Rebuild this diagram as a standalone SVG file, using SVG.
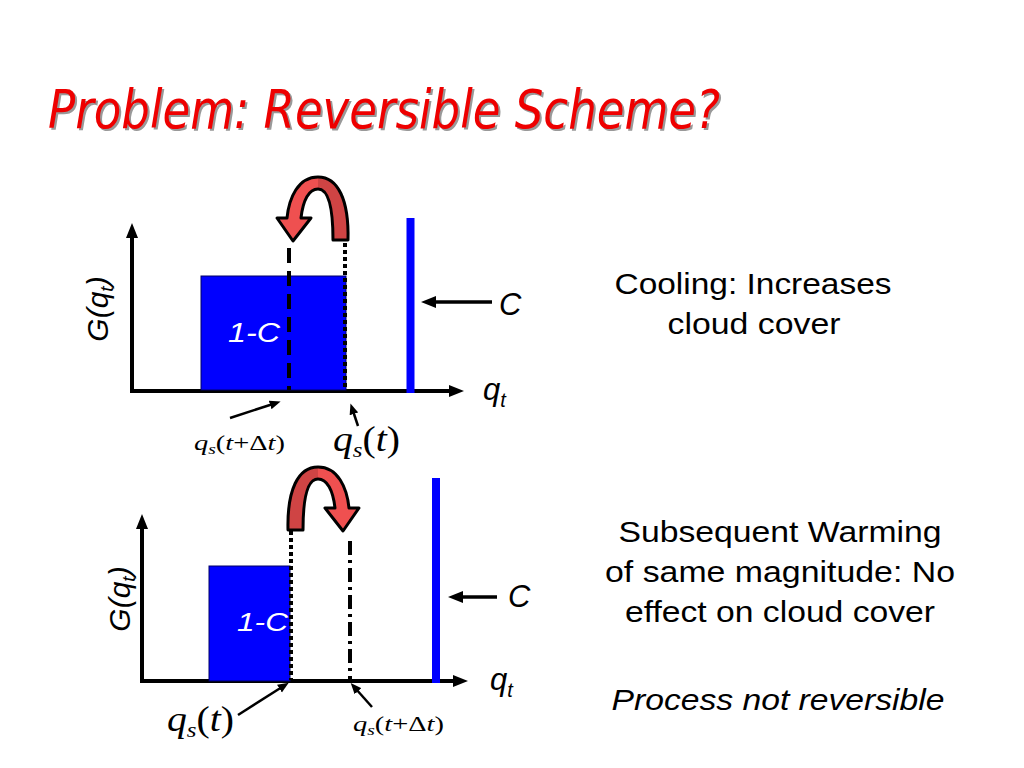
<svg xmlns="http://www.w3.org/2000/svg" width="1024" height="768" viewBox="0 0 1024 768">
<defs>
<style>
.axis{stroke:#000;stroke-width:4;fill:none}
.bar{fill:#0000FF;stroke:#000066;stroke-width:1}
.cline{stroke:#0000FF;stroke-width:8}
.dash{stroke:#000;stroke-width:4;stroke-dasharray:15 8;fill:none}
.dot{stroke:#000;stroke-width:4;stroke-dasharray:4 3;fill:none}
.dashdot{stroke:#000;stroke-width:4;stroke-dasharray:14 5 3 5;fill:none}
.carrow{stroke:#000;stroke-width:3.5;fill:none}
.larrow{stroke:#000;stroke-width:2.5;fill:none}
.sans{font-family:"Liberation Sans",Arial,sans-serif;fill:#000}
.body{font-family:"Liberation Sans",Arial,sans-serif;font-size:29px;fill:#000;text-anchor:middle}
.serif{font-family:"Liberation Serif","Times New Roman",serif;fill:#000}
.curl{stroke:#000;stroke-width:3;stroke-linejoin:round;fill:url(#curlfill)}
.white{font-family:"Liberation Sans",Arial,sans-serif;font-style:italic;fill:#fff}
</style>
<marker id="axhead" markerUnits="userSpaceOnUse" markerWidth="16" markerHeight="14" refX="4" refY="7" orient="auto">
<path d="M0,1 L15,7 L0,13 Z" fill="#000"/>
</marker>
<marker id="chead" markerUnits="userSpaceOnUse" markerWidth="16" markerHeight="14" refX="3" refY="7" orient="auto">
<path d="M0,1 L15,7 L0,13 Z" fill="#000"/>
</marker>
<marker id="lhead" markerUnits="userSpaceOnUse" markerWidth="12" markerHeight="10" refX="3" refY="5" orient="auto">
<path d="M0,0.5 L11,5 L0,9.5 Z" fill="#000"/>
</marker>
<linearGradient id="curlfill" gradientUnits="userSpaceOnUse" x1="300" y1="0" x2="336" y2="0">
<stop offset="0.5" stop-color="#EF5050"/>
<stop offset="0.5" stop-color="#CF4444"/>
</linearGradient>
<path id="curlshape" d="M348,240 C349,200 338,177 318,177 C298,177 289,198 287,218 L277,218 L293,241 L311,218 L301,218 C303,200 309,189 318,189 C328,189 333,205 333,240 Z"/>
</defs>
<rect width="1024" height="768" fill="#fff"/>

<g id="title">
<text x="50" y="130" font-family="'DejaVu Sans',Verdana,sans-serif" font-style="italic" font-size="54" fill="#999" textLength="672" lengthAdjust="spacingAndGlyphs">Problem: Reversible Scheme?</text>
<text x="48" y="128" font-family="'DejaVu Sans',Verdana,sans-serif" font-style="italic" font-size="54" fill="#EE0000" textLength="672" lengthAdjust="spacingAndGlyphs">Problem: Reversible Scheme?</text>
</g>

<!-- Top chart -->
<g id="top-axes">
<line class="axis" x1="132" y1="391" x2="132" y2="234" marker-end="url(#axhead)"/>
<line class="axis" x1="130" y1="391" x2="453" y2="391" marker-end="url(#axhead)"/>
</g>
<g id="top-bar">
<rect class="bar" x="201" y="276" width="145" height="114"/>
<text class="white" x="228" y="342" font-size="27" textLength="52" lengthAdjust="spacingAndGlyphs">1-C</text>
</g>
<g id="top-lines">
<line class="dash" x1="289" y1="248" x2="289" y2="390"/>
<line class="dot" x1="345" y1="243" x2="345" y2="390"/>
</g>
<g id="top-c-line">
<line class="cline" x1="410.5" y1="218" x2="410.5" y2="393"/>
</g>
<g id="top-curl">
<use href="#curlshape" class="curl"/>
</g>
<g id="top-ylabel">
<text class="sans" font-style="italic" font-size="30" text-anchor="middle" transform="translate(108,309) rotate(-90)">G(q<tspan font-size="19" dy="5">t</tspan><tspan dy="-5">)</tspan></text>
</g>
<g id="top-xlabel">
<text class="sans" font-style="italic" font-size="31" x="483" y="400">q<tspan font-size="20" dy="7">t</tspan></text>
</g>
<g id="top-c-label">
<text class="sans" font-style="italic" font-size="31" x="499" y="315">C</text>
</g>
<g id="top-qs-dt">
<text class="serif" font-size="22" x="194" y="450" textLength="91" lengthAdjust="spacingAndGlyphs"><tspan font-style="italic">q</tspan><tspan font-style="italic" font-size="15" dy="4">s</tspan><tspan dy="-4">(</tspan><tspan font-style="italic">t</tspan>+Δ<tspan font-style="italic">t</tspan>)</text>
</g>
<g id="top-qs-t">
<text class="serif" font-size="35" x="333" y="451" textLength="67" lengthAdjust="spacingAndGlyphs"><tspan font-style="italic">q</tspan><tspan font-style="italic" font-size="22" dy="6">s</tspan><tspan dy="-6">(</tspan><tspan font-style="italic">t</tspan>)</text>
</g>

<!-- Bottom chart -->
<g id="bottom-axes">
<line class="axis" x1="142" y1="681" x2="142" y2="525" marker-end="url(#axhead)"/>
<line class="axis" x1="140" y1="681" x2="457" y2="681" marker-end="url(#axhead)"/>
</g>
<g id="bottom-bar">
<rect class="bar" x="209" y="566" width="81" height="115"/>
<text class="white" x="237" y="631" font-size="26" textLength="51" lengthAdjust="spacingAndGlyphs">1-C</text>
</g>
<g id="bottom-lines">
<line class="dot" x1="291" y1="531" x2="291" y2="680"/>
<line class="dashdot" x1="350" y1="541" x2="350" y2="680"/>
</g>
<g id="bottom-c-line">
<line class="cline" x1="436" y1="478" x2="436" y2="683"/>
</g>
<g id="bottom-curl">
<use href="#curlshape" class="curl" transform="translate(636,290) scale(-1,1)"/>
</g>
<g id="bottom-ylabel">
<text class="sans" font-style="italic" font-size="30" text-anchor="middle" transform="translate(130,599) rotate(-90)">G(q<tspan font-size="19" dy="5">t</tspan><tspan dy="-5">)</tspan></text>
</g>
<g id="bottom-xlabel">
<text class="sans" font-style="italic" font-size="31" x="490" y="690">q<tspan font-size="20" dy="7">t</tspan></text>
</g>
<g id="bottom-c-label">
<text class="sans" font-style="italic" font-size="31" x="508" y="607">C</text>
</g>
<g id="bottom-qs-t">
<text class="serif" font-size="35" x="167" y="731" textLength="67" lengthAdjust="spacingAndGlyphs"><tspan font-style="italic">q</tspan><tspan font-style="italic" font-size="22" dy="6">s</tspan><tspan dy="-6">(</tspan><tspan font-style="italic">t</tspan>)</text>
</g>
<g id="bottom-qs-dt">
<text class="serif" font-size="22" x="353" y="731" textLength="91" lengthAdjust="spacingAndGlyphs"><tspan font-style="italic">q</tspan><tspan font-style="italic" font-size="15" dy="4">s</tspan><tspan dy="-4">(</tspan><tspan font-style="italic">t</tspan>+Δ<tspan font-style="italic">t</tspan>)</text>
</g>

<g id="connectors">
<line class="carrow" x1="492" y1="302" x2="433" y2="302" marker-end="url(#chead)"/>
<line class="carrow" x1="497" y1="597" x2="460" y2="597" marker-end="url(#chead)"/>
<line class="larrow" x1="230" y1="418" x2="273" y2="404" marker-end="url(#lhead)"/>
<line class="larrow" x1="358" y1="426" x2="353" y2="411" marker-end="url(#lhead)"/>
<line class="larrow" x1="238" y1="715" x2="282" y2="687" marker-end="url(#lhead)"/>
<line class="larrow" x1="372" y1="707" x2="356" y2="689" marker-end="url(#lhead)"/>
</g>

<g id="text-cooling">
<text class="body" x="753" y="294" textLength="277" lengthAdjust="spacingAndGlyphs">Cooling: Increases</text>
<text class="body" x="754" y="334" textLength="173" lengthAdjust="spacingAndGlyphs">cloud cover</text>
</g>
<g id="text-warming">
<text class="body" x="780" y="542" textLength="323" lengthAdjust="spacingAndGlyphs">Subsequent Warming</text>
<text class="body" x="780" y="582" textLength="350" lengthAdjust="spacingAndGlyphs">of same magnitude: No</text>
<text class="body" x="780" y="622" textLength="310" lengthAdjust="spacingAndGlyphs">effect on cloud cover</text>
<text class="body" x="778" y="710" font-style="italic" textLength="333" lengthAdjust="spacingAndGlyphs">Process not reversible</text>
</g>
</svg>
